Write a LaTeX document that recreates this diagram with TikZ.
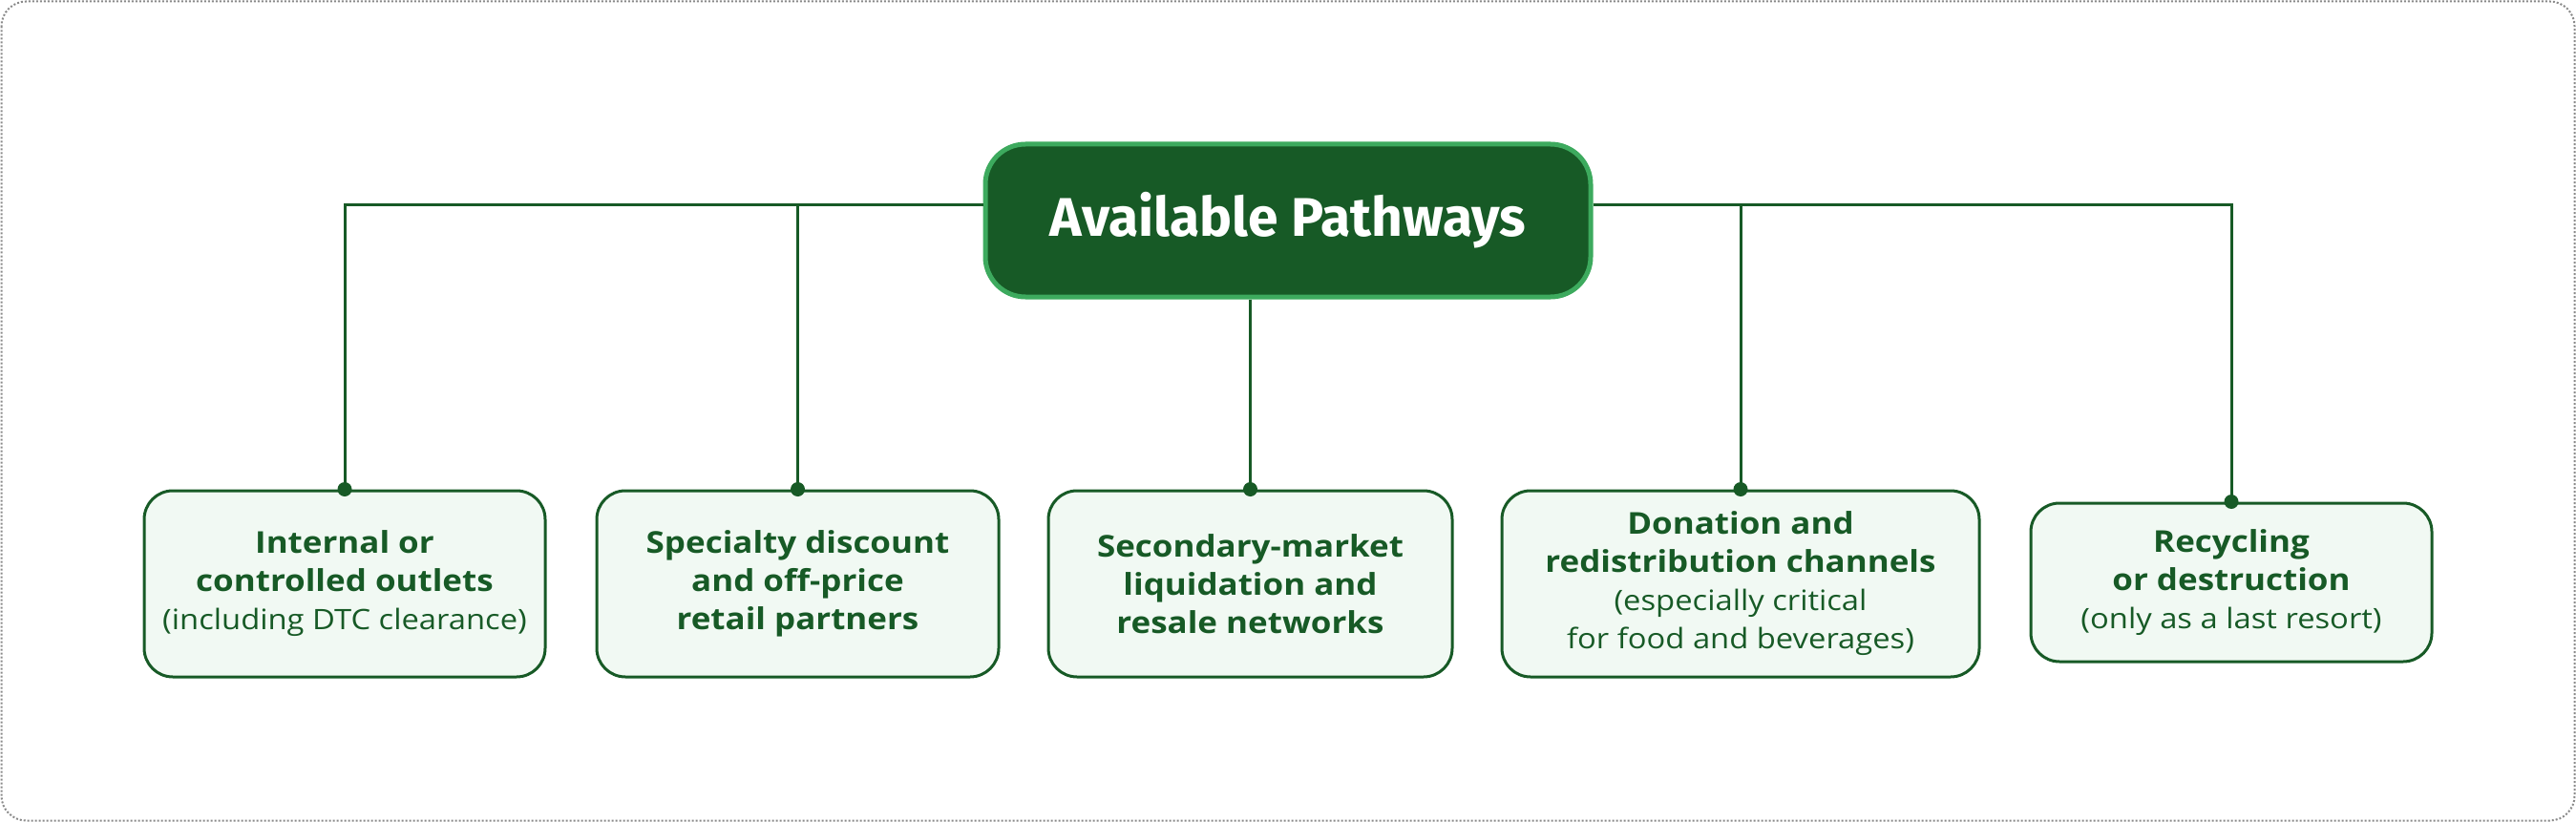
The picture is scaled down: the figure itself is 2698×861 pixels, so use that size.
\documentclass[tikz,border=0pt]{standalone}
\usepackage{fontspec}
\setmainfont{Open Sans}[FakeStretch=1.11]
\newfontfamily\titlefont{Fira Sans}
\definecolor{dkgreen}{HTML}{175A26}
\definecolor{ltgreen}{HTML}{3DAA5E}
\definecolor{boxfill}{HTML}{F1F9F3}
\definecolor{framegray}{HTML}{8A8A8A}
\newcommand{\hd}[1]{{\bfseries #1}}
\newcommand{\nt}[1]{{\fontsize{29.5}{40}\selectfont #1}}
\tikzset{
  topnode/.style={draw=ltgreen, line width=5pt, fill=dkgreen, rounded corners=42pt,
    minimum width=634pt, minimum height=160pt, text=white,
    font=\titlefont\bfseries\fontsize{57}{64}\selectfont},
  pathbox/.style={draw=dkgreen, line width=3pt, fill=boxfill, rounded corners=30pt,
    minimum height=195pt, text=dkgreen, align=center,
    font=\fontsize{31.5}{40}\selectfont},
  link/.style={draw=dkgreen, line width=3pt},
  jdot/.style={fill=dkgreen},
}
\begin{document}
\begin{tikzpicture}[x=1pt,y=-1pt]
\useasboundingbox (0,0) rectangle (2698,861);
\draw[framegray, line width=2pt, dotted, rounded corners=26pt] (1.5,1.5) rectangle (2696.5,859.5);

\node[topnode] (top) at (1349,231) {Available Pathways};

\node[pathbox, minimum width=420pt] (b1) at (361,611.5)
  {\hd{Internal or}\\\hd{controlled outlets}\\\nt{(including DTC clearance)}};
\node[pathbox, minimum width=421pt] (b2) at (835.5,611.5)
  {\hd{Specialty discount}\\\hd{and off-price}\\\hd{retail partners}};
\node[pathbox, minimum width=423pt] (b3) at (1309.5,611.5)
  {\hd{Secondary-market}\\\hd{liquidation and}\\\hd{resale networks}};
\node[pathbox, minimum width=500pt] (b4) at (1823,611.5)
  {\hd{Donation and}\\\hd{redistribution channels}\\\nt{(especially critical}\\\nt{for food and beverages)}};
\node[pathbox, minimum width=420pt, minimum height=166pt] (b5) at (2337,610)
  {\hd{Recycling}\\\hd{or destruction}\\\nt{(only as a last resort)}};

\coordinate (hl) at (0,215);
\draw[link] (top.west |- hl) -| (b1.north);
\draw[link] (top.west |- hl) -| (b2.north);
\draw[link] (top.east |- hl) -| (b4.north);
\draw[link] (top.east |- hl) -| (b5.north);
\draw[link] (b3.north |- top.south) -- (b3.north);

\foreach \b in {b1,b2,b3,b4,b5} \fill[jdot] (\b.north) circle (7.5pt);
\end{tikzpicture}
\end{document}
